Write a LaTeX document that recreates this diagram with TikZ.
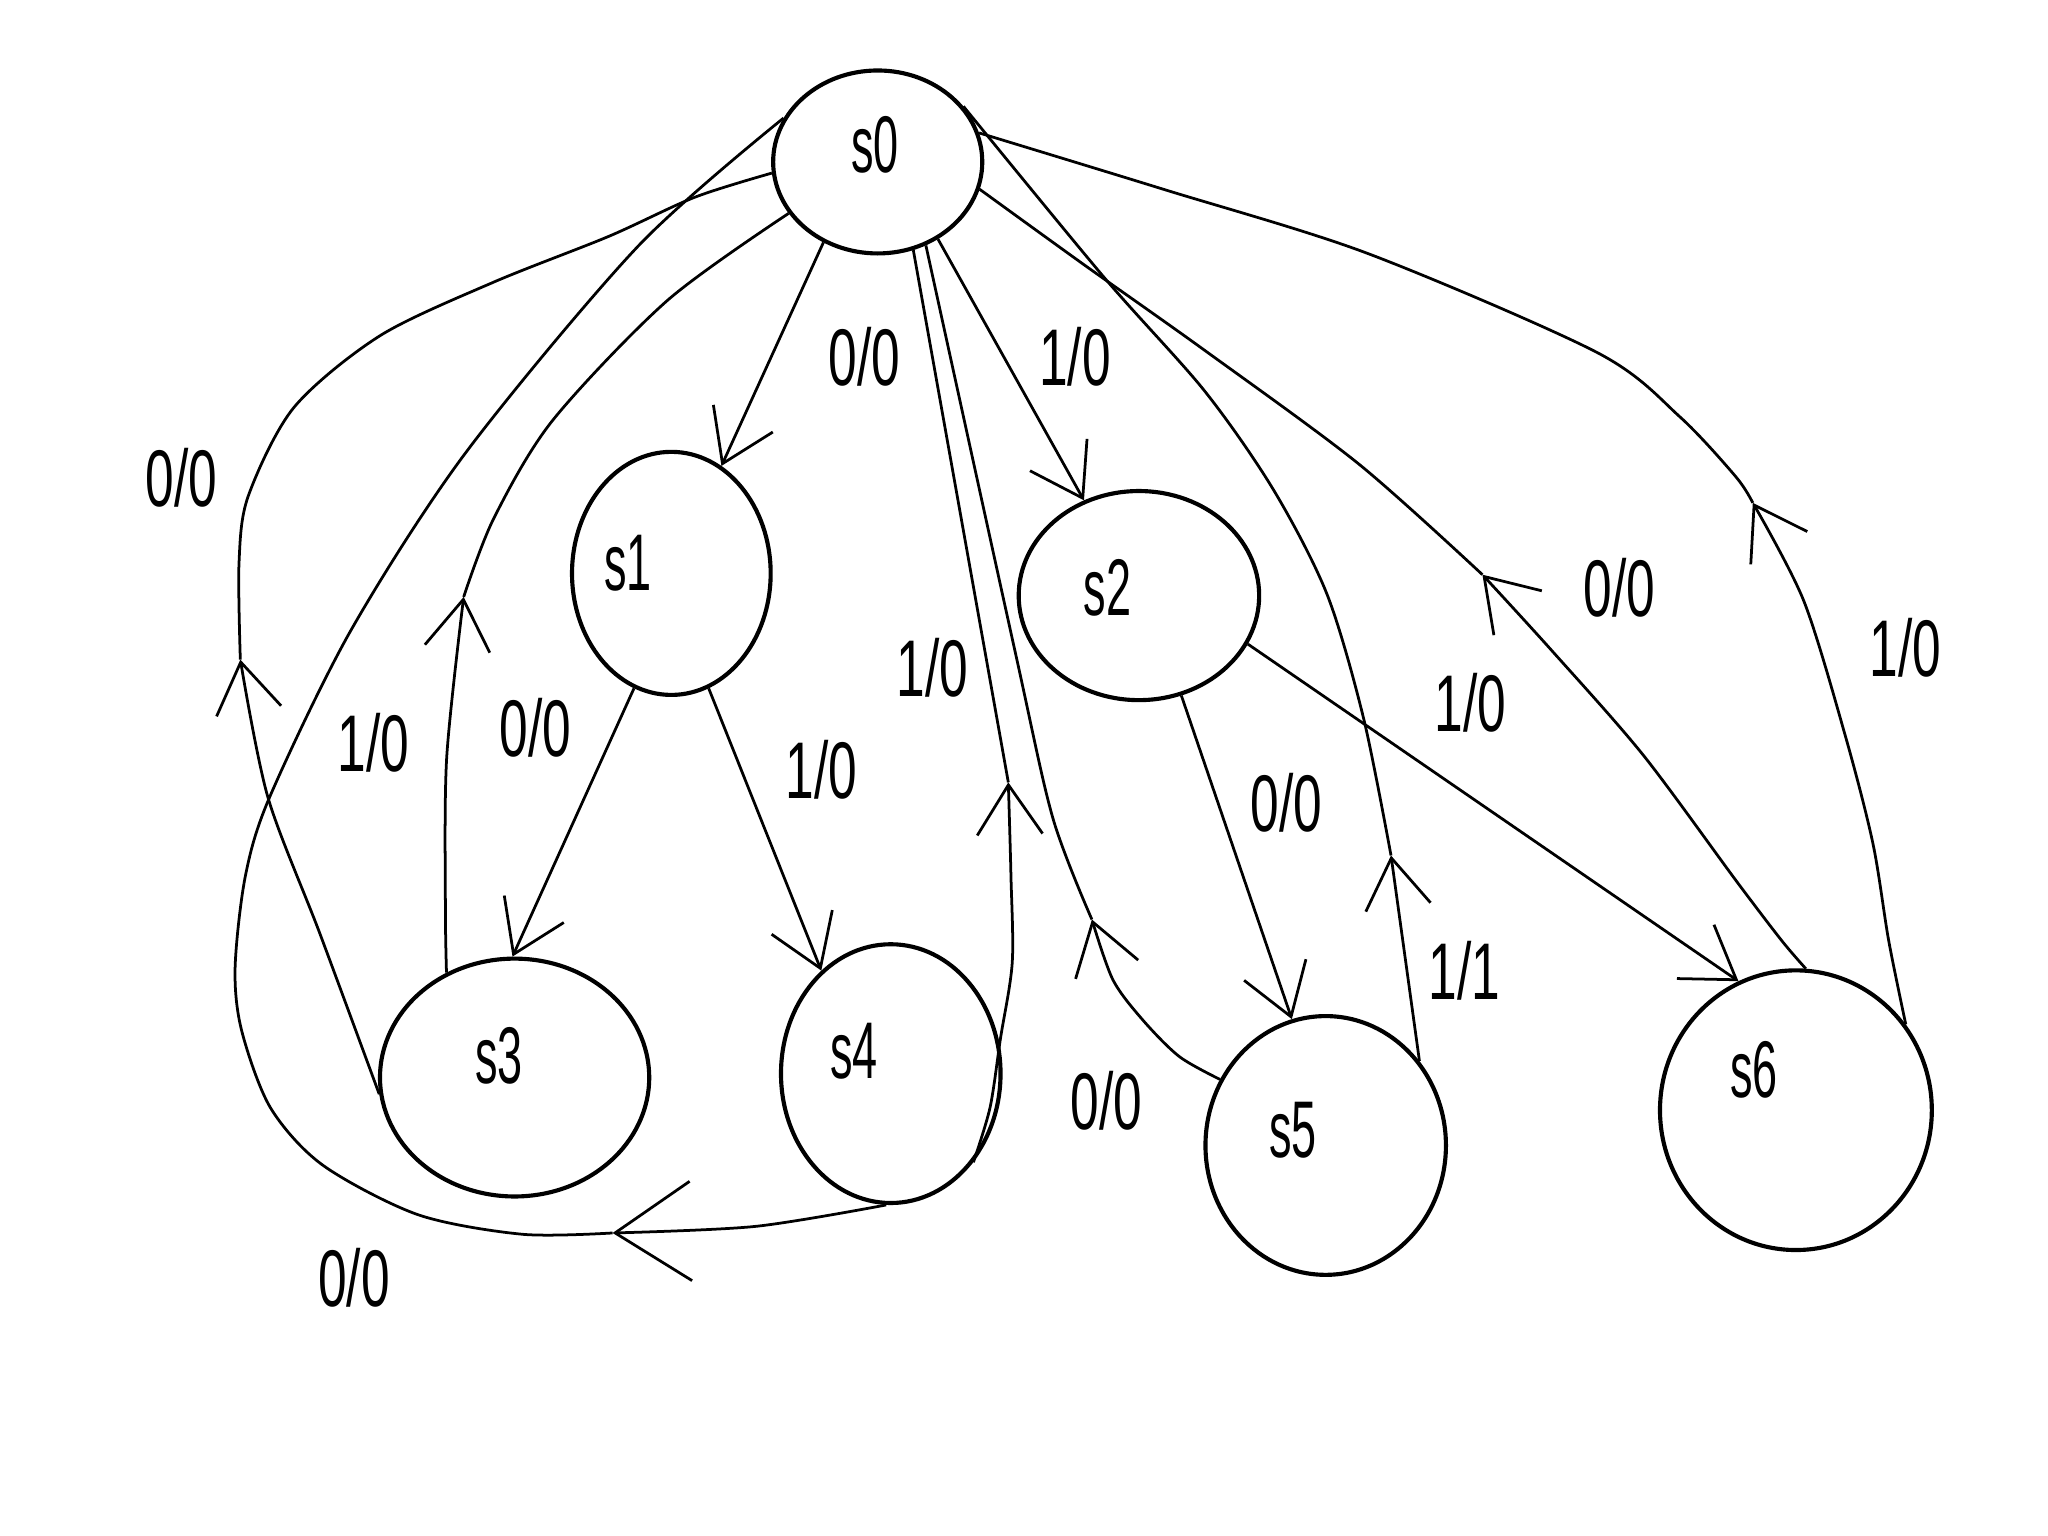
\documentclass[tikz,border=0pt]{standalone}
\usepackage{fontspec}
\setmainfont{Liberation Sans}
\usepackage{graphicx}
\usetikzlibrary{arrows.meta,shapes.geometric}
\newcommand\nlab[1]{\scalebox{0.64}[1]{#1}}
\newcommand\snm[1]{\scalebox{0.56}[1]{#1}}
\begin{document}
\begin{tikzpicture}[x=0.01cm,y=-0.01cm,
  state/.style={ellipse,draw,line width=0.9pt,inner sep=0pt},
  lab/.style={inner sep=0pt,font=\fontsize{17.5}{17.5}\selectfont},
  edge/.style={line width=0.6pt},
  arr/.style={edge,-{Straight Barb[length=0.38cm,width=0.50cm]}},
  bigarr/.style={edge,-{Straight Barb[length=0.58cm,width=0.76cm]}}]
\fill[white] (0,0) rectangle (1568,1176);
\useasboundingbox (0,0) rectangle (1568,1176);

% states
\node[state,minimum width=1.60cm,minimum height=1.40cm] (s0) at (672,124) {};
\node[state,minimum width=1.52cm,minimum height=1.86cm] (s1) at (514,439) {};
\node[state,minimum width=1.84cm,minimum height=1.60cm] (s2) at (872,456) {};
\node[state,minimum width=2.06cm,minimum height=1.82cm] (s3) at (394,825) {};
\node[state,minimum width=1.68cm,minimum height=1.98cm] (s4) at (682,822) {};
\node[state,minimum width=1.84cm,minimum height=1.98cm] (s5) at (1015,877) {};
\node[state,minimum width=2.08cm,minimum height=2.14cm] (s6) at (1375,850) {};

\node[lab] (t0) at (670,111) {\snm{s0}};
\node[lab] (t1) at (481,431) {\snm{s1}};
\node[lab] (t2) at (848,450) {\snm{s2}};
\node[lab] (t3) at (382,808) {\snm{s3}};
\node[lab] (t4) at (654,805) {\snm{s4}};
\node[lab] (t5) at (990,865) {\snm{s5}};
\node[lab] (t6) at (1343,819) {\snm{s6}};

% forward transitions
\draw[arr] (s0.236) -- (s1.65);
\draw[arr] (s0.308) -- (s2.120);
\draw[arr] (s1.252) -- (s3.91);
\draw[arr] (s1.288) -- (s4.124);
\draw[arr] (s2.293) -- (s5.105);
\draw[arr] (s2.336) -- (s6.114);

% mid-arrow points of return transitions
\coordinate (m1) at (355,457);
\coordinate (m2) at (184,505);
\coordinate (m3) at (469,944);
\coordinate (m4) at (772,599);
\coordinate (m5) at (836,704);
\coordinate (m6) at (1065,655);
\coordinate (m7) at (1135,440);
\coordinate (m8) at (1342,385);

% s3 -> s0 (vertical)
\draw[arr] plot[smooth] coordinates {(s3.123) (341,694) (342,580) (m1)};
\draw[edge] plot[smooth] coordinates {(m1) (378,397) (423,322) (511,230) (s0.210)};
% s3 -> s0 (left curve)
\draw[arr] plot[smooth] coordinates {(s3.187) (245,715) (205,610) (m2)};
\draw[edge] plot[smooth] coordinates {(m2) (183,431) (190,380) (225,312) (291,257) (378,216) (466,181) (532,151) (s0.186)};
% s4 -> s0 (bottom loop)
\draw[bigarr] plot[smooth] coordinates {(s4.268) (578,939) (m3)};
\draw[edge] plot[smooth] coordinates {(m3) (400,945) (320,930) (247,892) (207,848) (185,789) (180,741) (188,670) (207,609) (269,482) (357,346) (489,188) (s0.155)};
% s4 -> s0 (right)
\draw[arr] plot[smooth] coordinates {(s4.313) (758,848) (766,795) (775,737) (774,670) (m4)};
\draw[edge] (m4) -- (s0.292);
% s5 -> s0 (left)
\draw[arr] plot[smooth] coordinates {(s5.148) (903,809) (875,781) (852,750) (m5)};
\draw[edge] plot[smooth] coordinates {(m5) (806,626) (777,498) (s0.300)};
% s5 -> s0 (right)
\draw[arr] (s5.42) -- (m6);
\draw[edge] plot[smooth] coordinates {(m6) (1044,550) (1016,455) (975,375) (922,299) (845,212) (s0.33)};
% s6 -> s0 (0/0)
\draw[arr] plot[smooth] coordinates {(s6.86) (1364,720) (1329,674) (1258,578) (1188,498) (m7)};
\draw[edge] plot[smooth] coordinates {(m7) (1040,355) (922,268) (829,202) (s0.345)};
% s6 -> s0 (1/0)
\draw[arr] plot[smooth] coordinates {(s6.38) (1446,720) (1434,646) (1413,564) (1381,460) (m8)};
\draw[edge] plot[smooth] coordinates {(m8) (1329,365) (1286,319) (1223,270) (1047,194) (891,145) (s0.16)};

% labels
\node[lab] (l01) at (139,366) {\nlab{0/0}};
\node[lab] (l02) at (662,273) {\nlab{0/0}};
\node[lab] (l03) at (823,273) {\nlab{1/0}};
\node[lab] (l04) at (286,569) {\nlab{1/0}};
\node[lab] (l05) at (410,557) {\nlab{0/0}};
\node[lab] (l06) at (629,589) {\nlab{1/0}};
\node[lab] (l07) at (714,511) {\nlab{1/0}};
\node[lab] (l08) at (847,843) {\nlab{0/0}};
\node[lab] (l09) at (985,615) {\nlab{0/0}};
\node[lab] (l10) at (1240,450) {\nlab{0/0}};
\node[lab] (l11) at (1126,538) {\nlab{1/0}};
\node[lab] (l12) at (1459,496) {\nlab{1/0}};
\node[lab] (l13) at (1121,743) {\nlab{1/1}};
\node[lab] (l14) at (271,978) {\nlab{0/0}};
\end{tikzpicture}
\end{document}
